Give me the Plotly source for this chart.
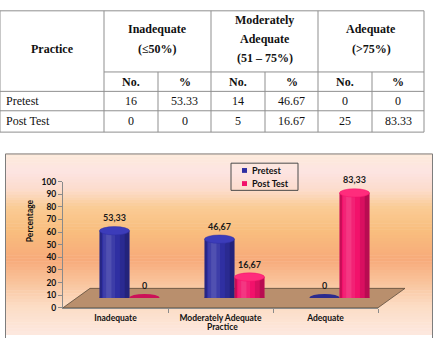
import plotly.graph_objects as go

# ---------------- data ----------------
categories = ["Inadequate", "Moderately Adequate", "Adequate"]
series_names = ["Pretest", "Post Test"]
pretest_pct = [53.33, 46.67, 0]
posttest_pct = [0, 16.67, 83.33]
pretest_no = [16, 14, 0]
posttest_no = [0, 5, 25]
y_ticks = [0, 10, 20, 30, 40, 50, 60, 70, 80, 90, 100]
group_headers = [["Inadequate", "(≤50%)"],
                 ["Moderately", "Adequate", "(51 – 75%)"],
                 ["Adequate", "(>75%)"]]
sub_headers = ["No.", "%"]
row_labels = ["Pretest", "Post Test"]

# ---------------- helpers ----------------
W, H = 433, 338
def px(x):
    return x / W
def py(y):
    return 1 - y / H

def fmt_table(v):
    return str(int(v)) if float(v).is_integer() else f"{v:.2f}"

def fmt_chart(v):
    return str(int(v)) if float(v).is_integer() else f"{v:.2f}".replace(".", ",")

BLUE = "#2f2fa2"
BLUE_CAP = "#3c3cba"
BLUE_FLAT = "#2a2a8e"
PINK = "#f2116b"
PINK_CAP = "#ff2c7c"
PINK_FLAT = "#cc1058"
FONT_C = "Lato"
FONT_T = "Liberation Serif"

fig = go.Figure()
shapes = []
annotations = []

# ---------------- table ----------------
col_x = [0, 104, 158, 211, 265, 318, 372, 424]
row_y = [6, 69, 89, 109, 131]
LC = "#8f8f8f"

def hline(x0, x1, y):
    shapes.append(dict(type="line", xref="paper", yref="paper", x0=px(x0), x1=px(x1),
                       y0=py(y), y1=py(y), line=dict(color=LC, width=1)))
def vline(x, y0, y1):
    shapes.append(dict(type="line", xref="paper", yref="paper", x0=px(x), x1=px(x),
                       y0=py(y0), y1=py(y1), line=dict(color=LC, width=1)))

hline(0, 424, row_y[0])
hline(col_x[1], 424, row_y[1])
for y in row_y[2:]:
    hline(0, 424, y)
for i, x in enumerate(col_x):
    if i in (0, 1, 3, 5, 7):
        vline(x, row_y[0], row_y[-1])
    else:
        vline(x, row_y[1], row_y[-1])

def txt(x, y, s, size=12, bold=False, family=FONT_T, xanchor="center", color="#111"):
    annotations.append(dict(xref="paper", yref="paper", x=px(x), y=py(y), text=s,
                            showarrow=False, xanchor=xanchor, yanchor="middle",
                            font=dict(family=family, size=size, color=color,
                                      weight="bold" if bold else "normal")))

txt((col_x[0] + col_x[1]) / 2, 45, "Practice", bold=True)
for g, lines in enumerate(group_headers):
    cx = (col_x[1 + 2 * g] + col_x[3 + 2 * g]) / 2
    n = len(lines)
    for k, line in enumerate(lines):
        txt(cx, 35 + (k - (n - 1) / 2) * 20, line, bold=True)
    for j, sh in enumerate(sub_headers):
        c = 1 + 2 * g + j
        txt((col_x[c] + col_x[c + 1]) / 2, 79, sh, bold=True)

table_rows = [
    [pretest_no[0], pretest_pct[0], pretest_no[1], pretest_pct[1], pretest_no[2], pretest_pct[2]],
    [posttest_no[0], posttest_pct[0], posttest_no[1], posttest_pct[1], posttest_no[2], posttest_pct[2]],
]
for r, (lab, vals) in enumerate(zip(row_labels, table_rows)):
    yc = (row_y[2 + r] + row_y[3 + r]) / 2
    txt(4, yc, lab, size=12, xanchor="left")
    for c, v in enumerate(vals):
        txt((col_x[c + 1] + col_x[c + 2]) / 2, yc, fmt_table(v), size=12)

# ---------------- chart background (gradient box) ----------------
stops = [(153, (253, 235, 218)), (172, (253, 228, 226)), (190, (252, 220, 205)),
         (208, (250, 204, 150)), (232, (249, 190, 126)), (262, (247, 170, 122)),
         (286, (249, 196, 156)), (310, (252, 220, 196)), (338, (253, 232, 222))]

def interp(y):
    for (y0, c0), (y1, c1) in zip(stops[:-1], stops[1:]):
        if y0 <= y <= y1:
            t = (y - y0) / (y1 - y0)
            return tuple(int(round(a + (b - a) * t)) for a, b in zip(c0, c1))
    return stops[-1][1]

ystep = 3
y = 153
while y < 340:
    c = interp(y + ystep / 2)
    shapes.append(dict(type="rect", xref="paper", yref="paper", layer="below",
                       x0=px(5), x1=px(433), y0=py(min(y + ystep + 0.5, 340)), y1=py(y),
                       fillcolor=f"rgb{c}", line=dict(width=0)))
    y += ystep
shapes.append(dict(type="rect", xref="paper", yref="paper", layer="below",
                   x0=px(5.5), x1=px(432.5), y0=py(345), y1=py(153.5),
                   fillcolor="rgba(0,0,0,0)", line=dict(color="#7d7d7d", width=1)))

# floor
AX_L, AX_R, AX_B, AX_T = 63, 378, 312, 182
DX, DY = 27, 20
shapes.append(dict(type="path", xref="paper", yref="paper", layer="below",
                   path=f"M {px(AX_L)} {py(AX_B)} L {px(AX_R)} {py(AX_B)} L {px(AX_R+DX)} {py(AX_B-DY)} "
                        f"L {px(AX_L+DX)} {py(AX_B-DY)} Z",
                   fillcolor="#b98f6d", line=dict(color="#5a4a3a", width=0.8)))

# ---------------- bars ----------------
xs = list(range(len(categories)))
# empty trace so the front (visible) axis pair is drawn
fig.add_trace(go.Scatter(x=[], y=[], xaxis="x", yaxis="y", showlegend=False, hoverinfo="skip"))
fig.add_trace(go.Bar(x=xs, y=pretest_pct, name=series_names[0], xaxis="x2", yaxis="y2",
                     marker=dict(color=BLUE, line=dict(width=0)), showlegend=False))
fig.add_trace(go.Bar(x=xs, y=posttest_pct, name=series_names[1], xaxis="x2", yaxis="y2",
                     marker=dict(color=PINK, line=dict(width=0)), showlegend=False))

BW = 0.2857
RY = 3.3  # ellipse half-height in y units
shade = [(0.0, 0.08, "rgba(0,0,0,0.18)"), (0.12, 0.22, "rgba(255,255,255,0.08)"),
         (0.22, 0.40, "rgba(255,255,255,0.16)"), (0.40, 0.52, "rgba(255,255,255,0.07)"),
         (0.68, 0.84, "rgba(0,0,0,0.10)"), (0.84, 1.0, "rgba(0,0,0,0.24)")]

for vals, off, body, cap, flat in [(pretest_pct, -BW / 2, BLUE, BLUE_CAP, BLUE_FLAT),
                                   (posttest_pct, BW / 2, PINK, PINK_CAP, PINK_FLAT)]:
    for i, v in enumerate(vals):
        c = xs[i] + off
        left, right = c - BW / 2, c + BW / 2
        if v == 0:
            shapes.append(dict(type="circle", xref="x2", yref="y2", x0=left, x1=right,
                               y0=-RY, y1=RY, fillcolor=flat, line=dict(width=0)))
        else:
            shapes.append(dict(type="circle", xref="x2", yref="y2", x0=left, x1=right,
                               y0=-RY, y1=RY, fillcolor=body, line=dict(width=0)))
            for f0, f1, col in shade:
                shapes.append(dict(type="rect", xref="x2", yref="y2",
                                   x0=left + f0 * BW, x1=left + f1 * BW, y0=0, y1=v,
                                   fillcolor=col, line=dict(width=0)))
            shapes.append(dict(type="circle", xref="x2", yref="y2", x0=left, x1=right,
                               y0=v - RY, y1=v + RY, fillcolor=cap,
                               line=dict(color=body, width=0.5)))
        annotations.append(dict(xref="x2", yref="y2", x=c, y=v, yshift=13, text=fmt_chart(v),
                                showarrow=False,
                                font=dict(family=FONT_C, size=9, color="#1a1a1a", weight="bold")))

# ---------------- legend (manual) ----------------
shapes.append(dict(type="rect", xref="paper", yref="paper", x0=px(231), x1=px(298),
                   y0=py(191), y1=py(163), fillcolor="rgba(0,0,0,0)",
                   line=dict(color="#4a4a4a", width=1)))
for k, (nm, col) in enumerate(zip(series_names, [BLUE, PINK])):
    yc = 170.5 + k * 13.5
    shapes.append(dict(type="rect", xref="paper", yref="paper", x0=px(242), x1=px(247),
                       y0=py(yc + 2.5), y1=py(yc - 2.5), fillcolor=col, line=dict(width=0)))
    annotations.append(dict(xref="paper", yref="paper", x=px(249.5), y=py(yc), text=nm,
                            showarrow=False, xanchor="left", yanchor="middle",
                            font=dict(family=FONT_C, size=9, color="#111", weight="bold")))

# axis titles
annotations.append(dict(xref="paper", yref="paper", x=px(30), y=py(246), text="Percentage",
                        textangle=-90, showarrow=False, xanchor="center",
                        font=dict(family=FONT_C, size=8.5, color="#111", weight="bold")))
annotations.append(dict(xref="paper", yref="paper", x=px(222), y=py(338), text="Practice",
                        showarrow=False, yanchor="bottom", borderpad=0,
                        font=dict(family=FONT_C, size=8.5, color="#111", weight="bold")))

MX, MY = 14, 10
fig.update_layout(
    width=W, height=H, autosize=False,
    margin=dict(l=0, r=0, t=0, b=0),
    paper_bgcolor="white", plot_bgcolor="rgba(0,0,0,0)",
    barmode="group", bargap=1 - 2 * BW, bargroupgap=0,
    showlegend=False,
    xaxis=dict(domain=[px(AX_L), px(AX_R)], range=[-0.5, 2.5], anchor="y",
               tickmode="array", tickvals=xs, ticktext=categories, ticks="outside", ticklen=2,
               tickcolor="rgba(0,0,0,0)", showline=True, linecolor="#8a8a8a", linewidth=1,
               showgrid=False, zeroline=False,
               minor=dict(tickvals=[0.5, 1.5, 2.5], ticks="outside", ticklen=4,
                          tickcolor="#8a8a8a", showgrid=False),
               tickfont=dict(family=FONT_C, size=8.5, color="#111", weight="bold")),
    yaxis=dict(domain=[py(AX_B), py(AX_T)], range=[0, 100], anchor="x",
               tickmode="array", tickvals=y_ticks, ticks="outside", ticklen=4,
               tickcolor="#8a8a8a",
               showline=True, linecolor="#8a8a8a", linewidth=1, showgrid=False, zeroline=False,
               tickfont=dict(family=FONT_C, size=8.5, color="#111", weight="bold")),
    xaxis2=dict(domain=[px(AX_L + MX), px(AX_R + MX)], range=[-0.5, 2.5], anchor="y2",
                visible=False),
    yaxis2=dict(domain=[py(AX_B - MY), py(AX_T - MY)], range=[0, 100], anchor="x2",
                visible=False),
    shapes=shapes,
    annotations=annotations,
)

fig.write_html("out.html")
